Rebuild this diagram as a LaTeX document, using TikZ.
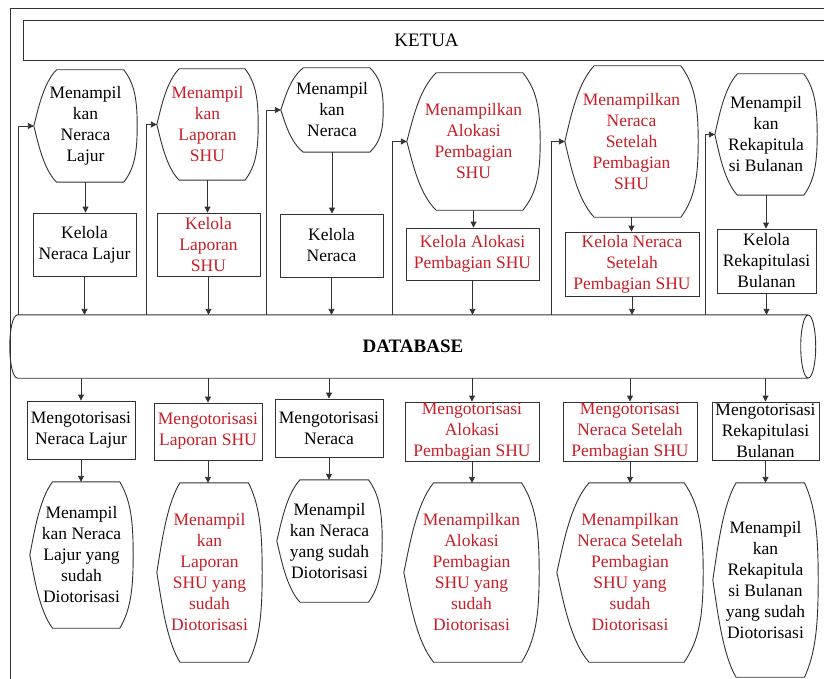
\documentclass[tikz,border=0pt]{standalone}
\usepackage{fontspec}
\setmainfont{Liberation Serif}
\usetikzlibrary{arrows.meta,calc}
\definecolor{myred}{RGB}{200,30,40}
\definecolor{lncol}{RGB}{50,50,50}
\newcommand\dispshape[1]{%
  \draw[ln] let \p1=(#1.north west), \p2=(#1.south east), \p3=(#1.center) in
    ({\x1+0.22*(\x2-\x1)},\y1) -- ({\x2-0.13*(\x2-\x1)},\y1)
    .. controls ({\x2-0.03*(\x2-\x1)},{\y1-0.12*(\y1-\y2)}) and (\x2,{\y3+0.25*(\y1-\y2)}) .. (\x2,\y3)
    .. controls (\x2,{\y3-0.25*(\y1-\y2)}) and ({\x2-0.03*(\x2-\x1)},{\y2+0.12*(\y1-\y2)}) .. ({\x2-0.13*(\x2-\x1)},\y2)
    -- ({\x1+0.22*(\x2-\x1)},\y2)
    .. controls ({\x1+0.09*(\x2-\x1)},{\y2+0.12*(\y1-\y2)}) and ({\x1+0.04*(\x2-\x1)},{\y3-0.14*(\y1-\y2)}) .. (\x1,\y3)
    .. controls ({\x1+0.04*(\x2-\x1)},{\y3+0.14*(\y1-\y2)}) and ({\x1+0.09*(\x2-\x1)},{\y1-0.12*(\y1-\y2)}) .. ({\x1+0.22*(\x2-\x1)},\y1) -- cycle;}
\begin{document}
\begin{tikzpicture}[x=1pt,y=-1pt,
  ln/.style={draw=lncol,line width=0.9pt},
  arr/.style={ln,-{Triangle[length=6pt,width=6pt]}},
  sz/.style 2 args={minimum width=#1pt,minimum height=#2pt},
  txt/.style={align=center,inner sep=0pt,font=\fontsize{17.5}{21}\selectfont},
  boxn/.style={txt,ln},
  shp/.style={txt},
  rd/.style={text=myred}]
\useasboundingbox (0,0) rectangle (824,679);
\fill[white] (0,0) rectangle (824,679);
% outer frame
\draw[ln] (10,700) -- (10,8) -- (840,8);
\node[ln,sz={807}{40},inner sep=0pt,font=\fontsize{19}{22}\selectfont] (ketua) at (426.5,40) {KETUA};
% top display shapes
\node[shp,sz={103}{112}] (t1) at (85.5,126) {Menampil\\kan\\Neraca\\Lajur};
\node[shp,rd,sz={101}{111}] (t2) at (207.5,124.5) {Menampil\\kan\\Laporan\\SHU};
\node[shp,sz={102}{84}] (t3) at (332,110) {Menampil\\kan\\Neraca};
\node[shp,rd,sz={133}{137}] (t4) at (473.5,141.5) {Menampilkan\\Alokasi\\Pembagian\\SHU};
\node[shp,rd,sz={133}{151}] (t5) at (631.5,141.5) {Menampilkan\\Neraca\\Setelah\\Pembagian\\SHU};
\node[shp,sz={102}{121}] (t6) at (766,134.5) {Menampil\\kan\\Rekapitula\\si Bulanan};
\foreach \s in {t1,t2,t3,t4,t5,t6}{\dispshape{\s}}
% kelola boxes
\node[boxn,sz={103}{63}] (k1) at (84.5,244.5) {Kelola\\Neraca Lajur};
\node[boxn,rd,sz={103}{63}] (k2) at (208.5,244.5) {Kelola\\Laporan\\SHU};
\node[boxn,sz={103}{63}] (k3) at (331.5,245.5) {Kelola\\Neraca};
\node[boxn,rd,sz={133}{52}] (k4) at (472.5,254) {Kelola Alokasi\\Pembagian SHU};
\node[boxn,rd,sz={134}{64}] (k5) at (632,264) {Kelola Neraca\\Setelah\\Pembagian SHU};
\node[boxn,sz={99}{64}] (k6) at (766.5,261) {Kelola\\Rekapitulasi\\Bulanan};
% database
\node[txt,sz={790}{63},font=\bfseries\fontsize{19}{22}\selectfont] (db) at (413,346.5) {DATABASE};
\draw[ln] let \p1=(db.north west), \p2=(db.south east), \p3=(db.center) in
  (\x1,\y1) -- (\x2,\y1) (\x1,\y2) -- (\x2,\y2)
  (\x1,\y1) .. controls ({\x1-10.7pt},\y1) and ({\x1-10.7pt},\y2) .. (\x1,\y2)
  (\x2,\y3) ellipse [x radius=7.5pt,y radius=31.5pt];
% otorisasi boxes
\node[boxn,sz={108}{58}] (m1) at (81,430) {Mengotorisasi\\Neraca Lajur};
\node[boxn,rd,sz={108}{57}] (m2) at (208,431.5) {Mengotorisasi\\Laporan SHU};
\node[boxn,sz={108}{58}] (m3) at (329,428) {Mengotorisasi\\Neraca};
\node[boxn,rd,sz={134}{59}] (m4) at (472,431.5) {Mengotorisasi\\Alokasi\\Pembagian SHU};
\node[boxn,rd,sz={134}{59}] (m5) at (630,431.5) {Mengotorisasi\\Neraca Setelah\\Pembagian SHU};
\node[boxn,sz={107}{58}] (m6) at (765.5,431) {Mengotorisasi\\Rekapitulasi\\Bulanan};
% bottom display shapes
\node[shp,sz={103}{146}] (d1) at (81.5,555) {Menampil\\kan Neraca\\Lajur yang\\sudah\\Diotorisasi};
\node[shp,rd,sz={105}{179}] (d2) at (209.5,572.5) {Menampil\\kan\\Laporan\\SHU yang\\sudah\\Diotorisasi};
\node[shp,sz={105}{122}] (d3) at (329.5,541) {Menampil\\kan Neraca\\yang sudah\\Diotorisasi};
\node[shp,rd,sz={135}{179}] (d4) at (471.5,572.5) {Menampilkan\\Alokasi\\Pembagian\\SHU yang\\sudah\\Diotorisasi};
\node[shp,rd,sz={146}{179}] (d5) at (630,572.5) {Menampilkan\\Neraca Setelah\\Pembagian\\SHU yang\\sudah\\Diotorisasi};
\node[shp,sz={105}{194}] (d6) at (765.5,580) {Menampil\\kan\\Rekapitula\\si Bulanan\\yang sudah\\Diotorisasi};
\foreach \s in {d1,d2,d3,d4,d5,d6}{\dispshape{\s}}
% feedback lines
\coordinate (f1) at (18,315);
\coordinate (f2) at (146,315);
\coordinate (f3) at (266,315);
\coordinate (f4) at (392,315);
\coordinate (f5) at (551,315);
\coordinate (f6) at (705,315);
\foreach \i in {1,...,6}{
  \draw[arr] (f\i) |- (t\i.west);
  \draw[arr] (t\i.south) -- (t\i.south |- k\i.north);
  \draw[arr] (k\i.south) -- (k\i.south |- db.north);
  \draw[arr] (m\i.north |- db.south) -- (m\i.north);
  \draw[arr] (m\i.south) -- (m\i.south |- d\i.north);
}
\end{tikzpicture}
\end{document}
